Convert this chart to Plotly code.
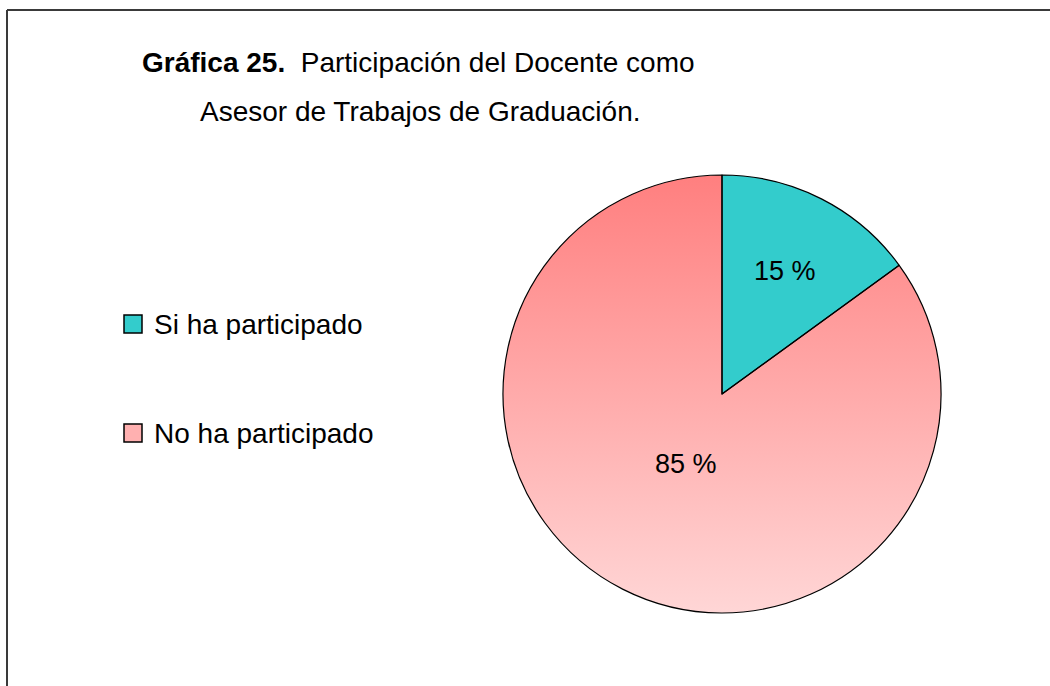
import numpy as np
import plotly.graph_objects as go

# ---- data ----
categories = ["Si ha participado", "No ha participado"]
values = [15, 85]
slice_colors = ["#33CCCC", "rgba(0,0,0,0)"]
legend_colors = ["#33CCCC", "#FFB0B0"]
gradient_top = "#FF7F7F"
gradient_bottom = "#FFD6D6"
title_bold = "Gráfica 25."
title_line1 = "Participación del Docente como"
title_line2 = "Asesor de Trabajos de Graduación."

# ---- geometry (pixels) ----
W, H = 1050, 686
cx, cy, R = 722, 394, 219
label_radius = [0.63, 0.36]  # fraction of radius where each % label sits
FONT = "Liberation Sans, Arial, sans-serif"

fig = go.Figure()

# gradient backdrop for the pink slice (sits under the pie)
theta = np.linspace(0, 2 * np.pi, 721)
fig.add_trace(go.Scatter(
    x=cx + R * np.cos(theta), y=cy + R * np.sin(theta),
    mode="lines", line=dict(width=0), fill="toself",
    fillgradient=dict(type="vertical",
                      colorscale=[[0, gradient_top], [1, gradient_bottom]],
                      start=cy - R, stop=cy + R),
    hoverinfo="skip", showlegend=False,
))

fig.add_trace(go.Pie(
    labels=categories, values=values, sort=False,
    direction="clockwise", rotation=0,
    marker=dict(colors=slice_colors, line=dict(color="black", width=1.2)),
    textinfo="none",
    domain=dict(x=[(cx - R) / W, (cx + R) / W],
                y=[(H - cy - R) / H, (H - cy + R) / H]),
    showlegend=False, hoverinfo="label+percent",
))

annotations = []

# percentage labels at each slice's mid-angle
total = sum(values)
cum = 0
for v, fr in zip(values, label_radius):
    mid = (cum + v / 2) / total * 2 * np.pi  # clockwise from 12 o'clock
    cum += v
    annotations.append(dict(
        x=cx + fr * R * np.sin(mid), y=cy - fr * R * np.cos(mid),
        xref="x", yref="y", text=f"{round(v / total * 100)} %",
        showarrow=False, xanchor="center", yanchor="middle",
        font=dict(family=FONT, size=27, color="black")))

# manual legend
leg_y = [324, 433]
fig.add_trace(go.Scatter(
    x=[133, 133], y=leg_y, mode="markers",
    marker=dict(symbol="square", size=18, color=legend_colors,
                line=dict(color="black", width=1.5)),
    hoverinfo="skip", showlegend=False,
))
for name, yy in zip(categories, leg_y):
    annotations.append(dict(x=152, y=yy, xref="x", yref="y", text=name,
                            showarrow=False, xanchor="left", yanchor="middle",
                            font=dict(family=FONT, size=28, color="black")))

annotations.append(dict(x=418, y=62, xref="x", yref="y",
                        text=f"<b>{title_bold}</b>  {title_line1}",
                        showarrow=False, xanchor="center", yanchor="middle",
                        font=dict(family=FONT, size=28, color="black")))
annotations.append(dict(x=420, y=111, xref="x", yref="y", text=title_line2,
                        showarrow=False, xanchor="center", yanchor="middle",
                        font=dict(family=FONT, size=28, color="black")))

shapes = [
    dict(type="line", xref="paper", yref="paper", x0=7 / W, x1=1.0, y0=1 - 10 / H, y1=1 - 10 / H,
         line=dict(color="#3a3a3a", width=2)),
    dict(type="line", xref="paper", yref="paper", x0=7 / W, x1=7 / W, y0=0, y1=1 - 10 / H,
         line=dict(color="#3a3a3a", width=2)),
]

fig.update_layout(
    width=W, height=H,
    margin=dict(l=0, r=0, t=0, b=0),
    paper_bgcolor="white", plot_bgcolor="white",
    xaxis=dict(range=[0, W], visible=False, fixedrange=True, domain=[0, 1]),
    yaxis=dict(range=[H, 0], visible=False, fixedrange=True, domain=[0, 1]),
    annotations=annotations, shapes=shapes,
    showlegend=False,
)

fig.write_html("out.html", config={"displayModeBar": False},
               post_script="document.body.style.margin='0';")
